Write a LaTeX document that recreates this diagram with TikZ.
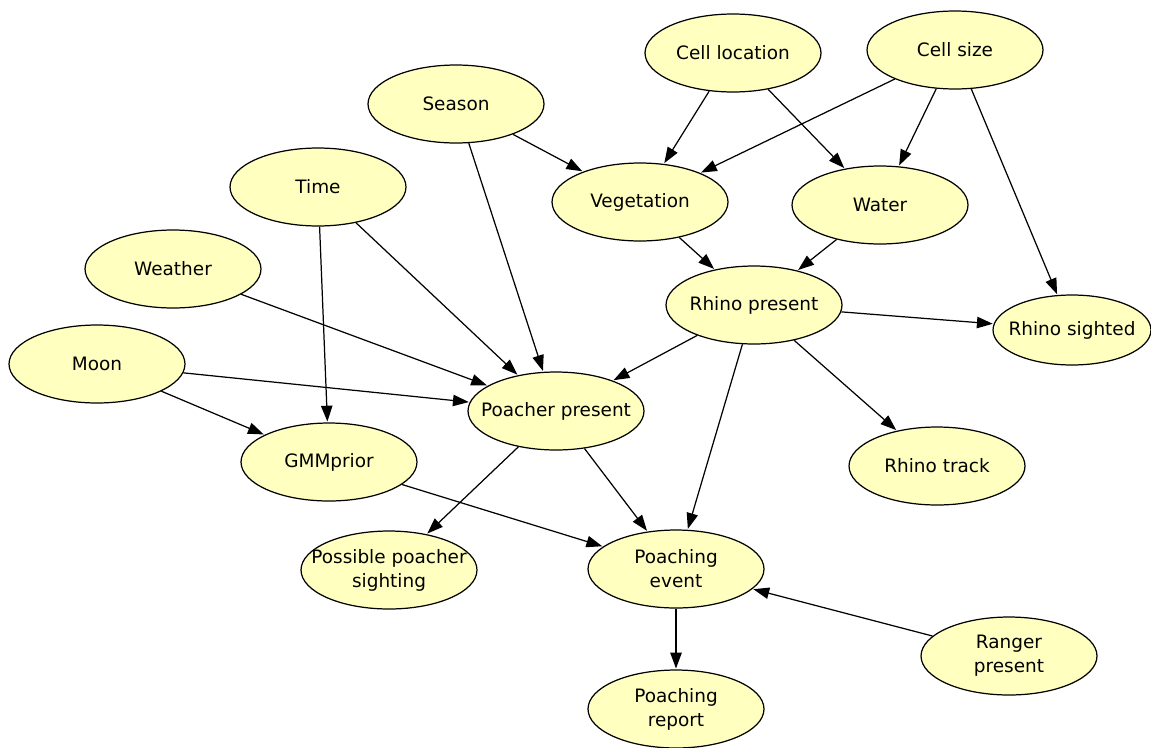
\documentclass[tikz,border=0pt]{standalone}
\usepackage{fontspec}
\setmainfont{DejaVu Sans}
\usetikzlibrary{shapes.geometric,arrows.meta}

\begin{document}
\begin{tikzpicture}[x=0.02cm, y=-0.02cm,
    var/.style={ellipse, draw=black, line width=0.7pt,
        fill={rgb,255:red,255;green,255;blue,192},
        minimum width=3.52cm, minimum height=1.56cm, inner xsep=-0.6cm, inner ysep=0pt,
        align=center, font=\fontsize{10.5}{13.6}\selectfont},
    link/.style={-{Triangle[length=9pt,width=6.5pt]}, line width=0.7pt, shorten >=0.5pt}]
    \useasboundingbox (0,0) rectangle (1151,747);

    % variables
    \node[var] (loc)    at (733,53)  {Cell location};
    \node[var] (size)   at (955,50)  {Cell size};
    \node[var] (season) at (456,104) {Season};
    \node[var] (time)   at (318,187) {Time};
    \node[var] (veg)    at (640,202) {Vegetation};
    \node[var] (water)  at (880,205) {Water};
    \node[var] (weather) at (173,269) {Weather};
    \node[var] (rhino)  at (754,305) {Rhino present};
    \node[var, minimum width=3.16cm, minimum height=1.40cm] (sighted) at (1072,330) {Rhino sighted};
    \node[var] (moon)   at (97,364)  {Moon};
    \node[var] (poacher) at (556,411) {Poacher present};
    \node[var] (gmm)    at (329,462) {GMMprior};
    \node[var] (track)  at (937,466) {Rhino track};
    \node[var] (possible) at (389,570) {Possible poacher\\sighting};
    \node[var] (event)  at (676,569) {Poaching\\event};
    \node[var] (ranger) at (1009,656) {Ranger\\present};
    \node[var] (report) at (676,709) {Poaching\\report};

    % dependencies
    \draw[link] (loc) -- (veg);
    \draw[link] (loc) -- (water);
    \draw[link] (size) -- (veg);
    \draw[link] (size) -- (water);
    \draw[link] (size) -- (sighted);
    \draw[link] (season) -- (veg);
    \draw[link] (season) -- (poacher);
    \draw[link] (time) -- (poacher);
    \draw[link] (time) -- (gmm);
    \draw[link] (weather) -- (poacher);
    \draw[link] (moon) -- (poacher);
    \draw[link] (moon) -- (gmm);
    \draw[link] (veg) -- (rhino);
    \draw[link] (water) -- (rhino);
    \draw[link] (rhino) -- (sighted);
    \draw[link] (rhino) -- (poacher);
    \draw[link] (rhino) -- (event);
    \draw[link] (rhino) -- (track);
    \draw[link] (poacher) -- (possible);
    \draw[link] (poacher) -- (event);
    \draw[link] (gmm) -- (event);
    \draw[link] (ranger) -- (event);
    \draw[link] (event) -- (report);
\end{tikzpicture}
\end{document}
